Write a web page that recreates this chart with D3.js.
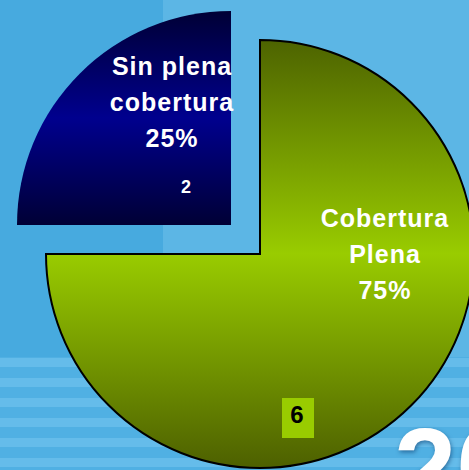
<!DOCTYPE html>
<html>
<head>
<meta charset="utf-8">
<script src="https://cdn.jsdelivr.net/npm/d3@7"></script>
<style>
  body { margin: 0; padding: 0; overflow: hidden; }
  svg { display: block; }
</style>
</head>
<body>
<div id="chart"></div>
<script>

// data
let categories = ["Sin plena cobertura", "Cobertura Plena"]
let values = [2, 6]
let label_lines = [["Sin plena", "cobertura"], ["Cobertura", "Plena"]]

let width = 469, height = 470

let svg = d3.select("#chart").append("svg")
  .attr("width", width)
  .attr("height", height)

let defs = svg.append("defs")

// background
svg.append("rect").attr("width", width).attr("height", height).attr("fill", "#47aadf")
svg.append("rect").attr("x", 163).attr("width", width - 163).attr("height", 357).attr("fill", "#5cb6e5")

// stripes at the bottom
let stripe_rows = d3.range(357, height, 20)
svg.selectAll(".stripe-dark")
  .data(stripe_rows)
  .join("rect")
  .attr("x", 0).attr("width", width)
  .attr("y", d => d).attr("height", 20)
  .attr("fill", "#50b0e3")
svg.selectAll(".stripe-light")
  .data(stripe_rows)
  .join("rect")
  .attr("x", 0).attr("width", width)
  .attr("y", d => d + 1).attr("height", 9)
  .attr("fill", "#65bcea")

// big "20" peeking in the corner
svg.append("text")
  .attr("x", 394).attr("y", 506)
  .attr("font-family", "Liberation Sans, Arial, sans-serif")
  .attr("font-weight", "bold")
  .attr("font-size", 112)
  .attr("fill", "#ffffff")
  .style("filter", "drop-shadow(1px 2px 2px rgba(0,40,90,0.5))")
  .text("20")

let radius = 214
let center = [260, 254]
let explode = 29

let total = d3.sum(values)

let pie = d3.pie()
  .sort(null)
  .startAngle(-Math.PI / 2)
  .endAngle(3 * Math.PI / 2)

let arcs = pie(values)

let arc = d3.arc().innerRadius(0).outerRadius(radius)

// gradients (local coords of each slice group)
let g_blue = defs.append("linearGradient").attr("id", "grad0")
  .attr("gradientUnits", "userSpaceOnUse")
  .attr("x1", 0).attr("x2", 0).attr("y1", -radius).attr("y2", 0)
g_blue.append("stop").attr("offset", 0).attr("stop-color", "#000035")
g_blue.append("stop").attr("offset", 0.5).attr("stop-color", "#00008e")
g_blue.append("stop").attr("offset", 1).attr("stop-color", "#000035")

let g_green = defs.append("linearGradient").attr("id", "grad1")
  .attr("gradientUnits", "userSpaceOnUse")
  .attr("x1", 0).attr("x2", 0).attr("y1", -radius).attr("y2", radius)
g_green.append("stop").attr("offset", 0).attr("stop-color", "#4d6300")
g_green.append("stop").attr("offset", 0.5).attr("stop-color", "#99cc00")
g_green.append("stop").attr("offset", 1).attr("stop-color", "#4d6000")

let offsets = [[-explode, -explode], [0, 0]]

let slices = svg.selectAll(".slice")
  .data(arcs)
  .join("g")
  .attr("class", "slice")
  .attr("transform", (d, i) => "translate(" + (center[0] + offsets[i][0]) + "," + (center[1] + offsets[i][1]) + ")")

slices.append("path")
  .attr("d", arc)
  .attr("fill", (d, i) => "url(#grad" + i + ")")
  .attr("stroke", (d, i) => i == 1 ? "#000" : "none")
  .attr("stroke-width", 2)

// category labels
let label_pos = [[-59, -150], [125, -27]]

slices.each(function(d, i) {
  let g = d3.select(this)
  let lines = label_lines[i].concat([Math.round(d.value / total * 100) + "%"])
  g.append("text")
    .attr("text-anchor", "middle")
    .attr("font-family", "Liberation Sans, Arial, sans-serif")
    .attr("font-weight", "bold")
    .attr("font-size", 25)
    .attr("letter-spacing", 1)
    .attr("fill", "#ffffff")
    .selectAll("tspan")
    .data(lines)
    .join("tspan")
    .attr("x", label_pos[i][0])
    .attr("y", (l, j) => label_pos[i][1] + j * 36)
    .text(l => l)
})

// value labels
let blue_g = d3.select(slices.nodes()[0])
blue_g.append("text")
  .attr("x", -45).attr("y", -32)
  .attr("text-anchor", "middle")
  .attr("font-family", "Liberation Sans, Arial, sans-serif")
  .attr("font-weight", "bold")
  .attr("font-size", 18)
  .attr("fill", "#ffffff")
  .text(values[0])

let green_g = d3.select(slices.nodes()[1])
green_g.append("rect")
  .attr("x", 22).attr("y", 144).attr("width", 32).attr("height", 40)
  .attr("fill", "#99cc00")
green_g.append("text")
  .attr("x", 37).attr("y", 169)
  .attr("text-anchor", "middle")
  .attr("font-family", "Liberation Sans, Arial, sans-serif")
  .attr("font-weight", "bold")
  .attr("font-size", 24)
  .attr("fill", "#000000")
  .text(values[1])

</script>
</body>
</html>
